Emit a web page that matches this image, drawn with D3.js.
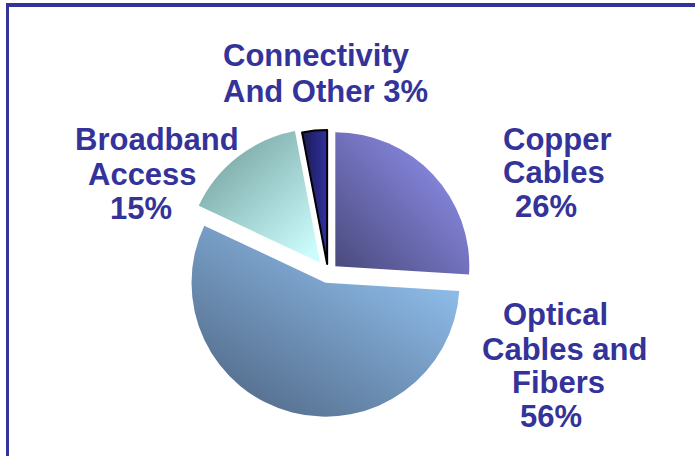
<!DOCTYPE html>
<html>
<head>
<meta charset="utf-8">
<script src="https://cdn.jsdelivr.net/npm/d3@7"></script>
<style>
  html, body { margin: 0; padding: 0; background: #fff; }
  svg { display: block; }
</style>
</head>
<body>
<div id="chart"></div>
<script>
// data
const categories = ["Copper Cables", "Optical Cables and Fibers", "Broadband Access", "Connectivity And Other"];
const values = [26, 56, 15, 3];
const labelLines = [
  ["Copper", "Cables", "26%"],
  ["Optical", "Cables and", "Fibers", "56%"],
  ["Broadband", "Access", "15%"],
  ["Connectivity", "And Other 3%"]
];

const colorPalette = {
  frame: "#333399",
  text: "#333399",
  gradients: [
    { from: "#48487a", to: "#9090ee", x1: 0, y1: 1, x2: 0.9, y2: 0.1 },
    { from: "#4f6684", to: "#98cafa", x1: 0.1, y1: 1, x2: 0.95, y2: 0.05 },
    { from: "#6a9896", to: "#ccfdfd", x1: 0, y1: 0, x2: 0.85, y2: 1 },
    { from: "#1a1a50", to: "#3030a0", x1: 0, y1: 0, x2: 1, y2: 0 }
  ]
};

const config = {
  width: 695,
  height: 456,
  cx: 328,
  cy: 273,
  radius: 134,
  explode: [10, 10, 13, 9],
  fontSize: 31,
  // label line positions: [x (start), baseline y]
  labelPos: [
    [[503, 150], [503, 183], [515, 217]],
    [[503, 325], [482, 360], [512, 393], [520, 427]],
    [[75, 150], [88, 185], [110, 219]],
    [[223, 66], [223, 102]]
  ]
};

const svg = d3.select("#chart")
  .append("svg")
  .attr("width", config.width)
  .attr("height", config.height);

// frame
svg.append("line")
  .attr("x1", 7.5).attr("x2", config.width)
  .attr("y1", 5).attr("y2", 5)
  .attr("stroke", colorPalette.frame).attr("stroke-width", 4);
svg.append("line")
  .attr("x1", 7.5).attr("x2", 7.5)
  .attr("y1", 3).attr("y2", config.height)
  .attr("stroke", colorPalette.frame).attr("stroke-width", 3);

const defs = svg.append("defs");
colorPalette.gradients.forEach((g, i) => {
  const lg = defs.append("linearGradient")
    .attr("id", `grad-${i}`)
    .attr("x1", g.x1).attr("y1", g.y1)
    .attr("x2", g.x2).attr("y2", g.y2);
  lg.append("stop").attr("offset", "0%").attr("stop-color", g.from);
  lg.append("stop").attr("offset", "100%").attr("stop-color", g.to);
});

const pie = d3.pie().sort(null).value(d => d);
const arcs = pie(values);
const arc = d3.arc().innerRadius(0).outerRadius(config.radius);

const pieGroup = svg.append("g")
  .attr("transform", `translate(${config.cx},${config.cy})`);

pieGroup.selectAll("path")
  .data(arcs)
  .enter()
  .append("path")
  .attr("d", arc)
  .attr("transform", (d, i) => {
    const mid = (d.startAngle + d.endAngle) / 2;
    const e = config.explode[i];
    return `translate(${Math.sin(mid) * e},${-Math.cos(mid) * e})`;
  })
  .attr("fill", (d, i) => `url(#grad-${i})`)
  .attr("stroke", (d, i) => i === 3 ? "#000" : "none")
  .attr("stroke-width", 2)
  .attr("stroke-linejoin", "round");

// labels
categories.forEach((c, i) => {
  const t = svg.append("text")
    .attr("class", "label")
    .style("font-family", "Liberation Sans, Arial, sans-serif")
    .style("font-weight", "bold")
    .style("font-size", `${config.fontSize}px`)
    .style("fill", colorPalette.text);
  labelLines[i].forEach((line, j) => {
    t.append("tspan")
      .attr("x", config.labelPos[i][j][0])
      .attr("y", config.labelPos[i][j][1])
      .text(line);
  });
});
</script>
</body>
</html>
